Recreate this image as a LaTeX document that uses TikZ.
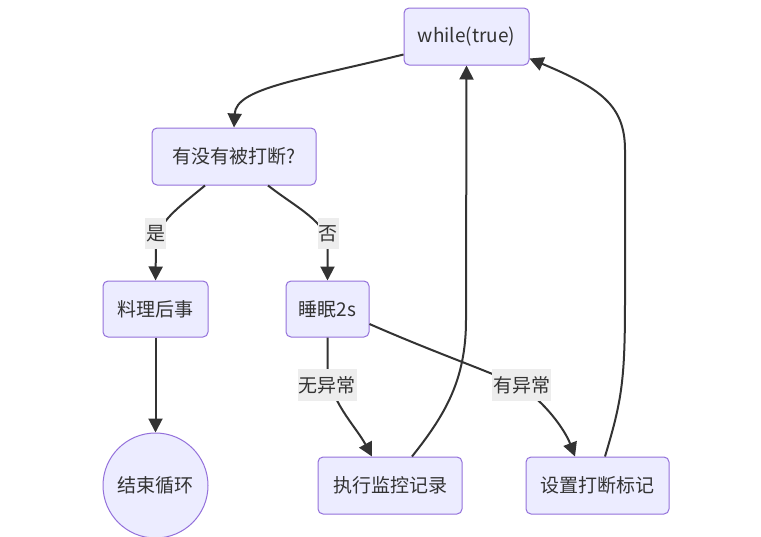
\documentclass[tikz,border=0pt]{standalone}
\usepackage{fontspec}
\setmainfont{Noto Sans CJK SC}
\usetikzlibrary{arrows.meta}
\definecolor{nodefill}{HTML}{ECECFF}
\definecolor{nodeline}{HTML}{9370DB}
\definecolor{edgecol}{HTML}{333333}
\definecolor{labelbg}{HTML}{EDEDED}
\begin{document}
\begin{tikzpicture}[x=1pt,y=-1pt,
  every node/.style={font=\fontsize{19}{22}\selectfont, text=edgecol},
  box/.style={draw=nodeline, fill=nodefill, line width=1pt, rounded corners=5pt, inner sep=0pt},
  roundnode/.style={draw=nodeline, fill=nodefill, line width=1pt, circle, inner sep=0pt, minimum size=105pt},
  flow/.style={draw=edgecol, line width=2pt, -{Triangle[length=14pt,width=14pt]}},
  elabel/.style={fill=labelbg, inner xsep=1pt, inner ysep=7pt}]
\useasboundingbox (0,0) rectangle (761,536);
\node[box, minimum width=125pt, minimum height=57pt] (wt) at (466.5,36.5) {while(true)};
\node[box, minimum width=164pt, minimum height=57pt] (intr) at (234,156.5) {有没有被打断?};
\node[box, minimum width=105pt, minimum height=56pt] (liao) at (155.5,309) {料理后事};
\node[box, minimum width=83pt, minimum height=56pt] (sleep) at (327.5,309) {睡眠2s};
\node[roundnode] (endl) at (155.5,485.5) {结束循环};
\node[box, minimum width=144pt, minimum height=57pt] (exe) at (390,485.5) {执行监控记录};
\node[box, minimum width=143pt, minimum height=57pt] (setm) at (597.5,485.5) {设置打断标记};
% edges
\draw[flow] ([yshift=-18pt]wt.west) .. controls (300,80) and (236,88) .. (intr.north);
\draw[flow] ([xshift=-29pt]intr.south) .. controls (178,208) and (157,222) .. (156,245) -- (liao.north);
\draw[flow] ([xshift=34pt]intr.south) .. controls (297,208) and (327,222) .. (327.5,245) -- (sleep.north);
\draw[flow] (liao.south) -- (endl.north);
\draw[flow] (sleep.south) -- (327.5,365) .. controls (328,400) and (355,425) .. ([xshift=-18pt]exe.north);
\draw[flow] ([yshift=-15pt]sleep.east) .. controls (440,355) and (500,375) .. (521,387) .. controls (545,402) and (565,430) .. ([xshift=-22.5pt]setm.north);
\draw[flow] ([xshift=22pt]exe.north) .. controls (445,415) and (466,380) .. (466,320) -- (wt.south);
\draw[flow] ([xshift=7.5pt]setm.north) .. controls (622,400) and (625,380) .. (625,300) -- (625,150) .. controls (625,105) and (600,88) .. ([yshift=-22pt]wt.east);
% labels
\node[elabel] (l1) at (155.5,233.5) {是};
\node[elabel] (l2) at (328,233.5) {否};
\node[elabel] (l3) at (327,385) {无异常};
\node[elabel] (l4) at (521.5,385) {有异常};
\end{tikzpicture}
\end{document}
